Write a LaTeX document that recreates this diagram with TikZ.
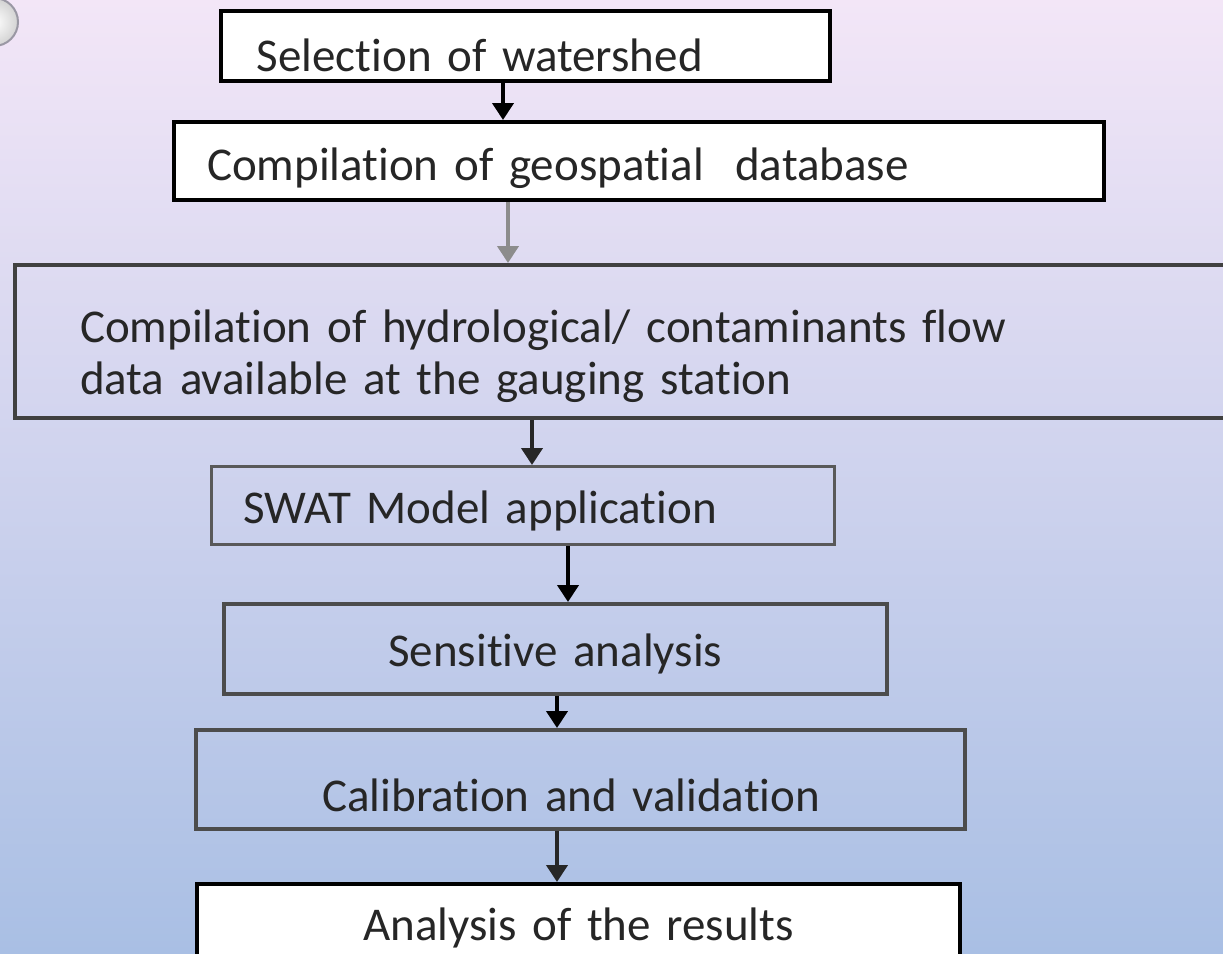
\documentclass[tikz,border=0pt]{standalone}
\usepackage{fontspec}
\setmainfont{Carlito}[Ligatures=CommonOff]
\usetikzlibrary{arrows.meta}
\definecolor{bgtop}{HTML}{F3E6F7}
\definecolor{bgmid}{HTML}{E2E0F2}
\definecolor{bgbot}{HTML}{A9BFE4}
\definecolor{rim}{HTML}{9A98A4}
\begin{document}
\begin{tikzpicture}[x=1pt,y=-1pt,
  stage/.style={draw=#1, line width=3.5pt, anchor=north west, inner ysep=0pt,
    align=left, font=\fontsize{47}{52}\selectfont, text=black!85},
  flow/.style={line width=4pt, -{Triangle[width=21pt,length=17pt]}}]
\useasboundingbox (0,0) rectangle (1223,953);
\shade[top color=bgtop, middle color=bgmid, bottom color=bgbot] (0,0) rectangle (1223,953);
\shade[inner color=white, outer color=gray!35] (-6,22) circle (24);
\draw[rim, line width=2pt] (-6,22) circle (24);

\node[stage=black, fill=white, inner xsep=36pt, text width=537pt, text height=61pt, text depth=9pt] (sel) at (219,9) {Selection of watershed};
\node[stage=black, fill=white, line width=4pt, inner xsep=33pt, text width=864pt, text height=58pt, text depth=20pt] (geo) at (172,120) {Compilation of geospatial\ \ database};
\node[stage=black!75, line width=4pt, inner xsep=65pt, text width=1097pt, text height=77pt, text depth=76pt] (hyd) at (13,263) {Compilation of hydrological/ contaminants flow\\data available at the gauging station};
\node[stage=black!65, line width=3pt, inner xsep=32pt, text width=559pt, text height=57pt, text depth=21pt] (swat) at (210,465) {SWAT Model application};
\node[stage=black!70, align=center, inner xsep=10pt, text width=643pt, text height=63pt, text depth=27pt] (sens) at (222,602) {Sensitive analysis};
\node[stage=black!70, align=center, inner xsep=10pt, text width=749pt, text height=82pt, text depth=17pt] (cal) at (194,728) {\hspace*{-18pt}Calibration and validation};
\node[stage=black, fill=white, line width=4pt, align=center, inner xsep=10pt, text width=743pt, text height=56pt, text depth=52pt] (res) at (195,882) {Analysis of the results};

\foreach \a/\b/\x/\c in {sel/geo/503/black, geo/hyd/508/black!45, hyd/swat/532/black!85,
    swat/sens/568/black, sens/cal/557/black, cal/res/557/black!85}
  \draw[flow, \c] (\a.south -| \x,0) -- (\b.north -| \x,0);
\end{tikzpicture}
\end{document}
